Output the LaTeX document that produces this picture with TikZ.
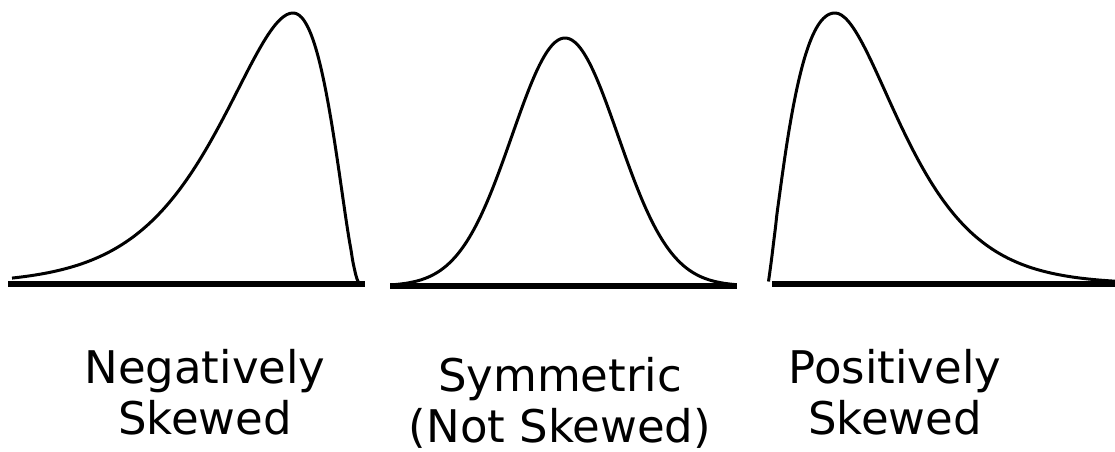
\documentclass[tikz,border=0pt]{standalone}
\usepackage{fontspec}
\setmainfont{DejaVu Sans}
\usepackage{tikz}
\usetikzlibrary{positioning}

\begin{document}
\begin{tikzpicture}[x=1pt,y=-1pt,
    curve/.style={black,line width=3pt,line join=round},
    axisline/.style={black,line width=6pt},
    skewlabel/.style={align=center,font=\fontsize{45}{51}\selectfont,anchor=base}]
  \useasboundingbox (0,0) rectangle (1115,451);
  % base lines
  \draw[axisline] (8,283.5) -- (365,283.5);
  \draw[axisline] (390,286) -- (737,286);
  \draw[axisline] (772,283.5) -- (1115,283.5);
  % negatively skewed: long tail on the left
  \draw[curve] plot[domain=12:293,samples=90,smooth] (\x,{284-271*exp(1.5*(ln((360-\x)/67)+1-(360-\x)/67))})
    -- plot[domain=293:359.5,samples=40,smooth] (\x,{284-271*exp(1.85*(ln((360-\x)/67)+1-(360-\x)/67))});
  % symmetric
  \draw[curve] plot[domain=395:735,samples=120,smooth] (\x,{286-248*exp(-((\x-565)/53)^2/2)});
  % positively skewed: long tail on the right
  \draw[curve] plot[domain=768.5:835,samples=40,smooth] (\x,{284-271*exp(1.2*(ln((\x-768)/67)+1-(\x-768)/67))})
    -- plot[domain=835:1115,samples=90,smooth] (\x,{284-271*exp(1.8*(ln((\x-768)/67)+1-(\x-768)/67))});
  % labels
  \node[skewlabel] (neg) at (205,434) {Negatively\\Skewed};
  \node[skewlabel] (sym) at (560,442) {Symmetric\\(Not Skewed)};
  \node[skewlabel] (pos) at (895,434) {Positively\\Skewed};
\end{tikzpicture}
\end{document}
